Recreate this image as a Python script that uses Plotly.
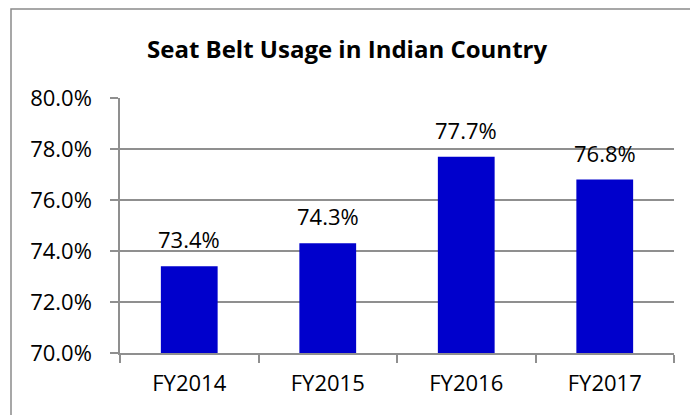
import plotly.graph_objects as go

categories = ["FY2014", "FY2015", "FY2016", "FY2017"]
usage = [0.734, 0.743, 0.777, 0.768]
labels = ["73.4%", "74.3%", "77.7%", "76.8%"]
title_text = "Seat Belt Usage in Indian Country"

FONT = "Open Sans, Liberation Sans, Arial, sans-serif"
GRID = "#8f8f8f"

fig = go.Figure()
fig.add_trace(go.Bar(
    x=categories, y=usage,
    marker=dict(color="#0000CC", line=dict(width=0)),
    hoverinfo="skip",
))

for c, v, t in zip(categories, usage, labels):
    fig.add_annotation(x=c, y=v, text=t, showarrow=False,
                       yanchor="middle", yshift=27,
                       font=dict(family=FONT, size=22, color="#000000"))

W, H = 690, 415
ml, mr, mt, mb = 120, 16, 98, 62
pw = W - ml - mr
ph = H - mt - mb

fig.add_shape(type="rect", xref="paper", yref="paper",
              x0=(11 - ml) / pw, x1=1.2,
              y0=-0.6, y1=1 + (mt - 9) / ph,
              line=dict(color="#8a8a8a", width=1.5), layer="below")

fig.update_layout(
    width=W, height=H,
    margin=dict(l=ml, r=mr, t=mt, b=mb),
    paper_bgcolor="white", plot_bgcolor="white",
    bargap=0.59,
    showlegend=False,
    title=dict(text="<b>" + title_text + "</b>", x=0.503, xref="container",
               xanchor="center", y=1 - 50 / H, yref="container", yanchor="middle",
               font=dict(family=FONT, size=24, color="#000000")),
    font=dict(family=FONT, size=22, color="#000000"),
    xaxis=dict(
        type="category",
        showline=True, linecolor=GRID, linewidth=1.5,
        ticks="outside", tickson="boundaries", ticklen=8,
        tickcolor=GRID, tickwidth=1.5,
        showgrid=False, ticklabelstandoff=10,
        tickfont=dict(family=FONT, size=22, color="#000000"),
    ),
    yaxis=dict(
        range=[0.70, 0.80], dtick=0.02, tick0=0.70,
        tickformat=".1%",
        showline=True, linecolor=GRID, linewidth=1.5,
        ticks="outside", ticklen=8, tickcolor=GRID, tickwidth=1.5,
        showgrid=True, gridcolor=GRID, gridwidth=1.5,
        zeroline=False, ticklabelstandoff=14,
        tickfont=dict(family=FONT, size=22, color="#000000"),
    ),
)

fig.write_html("out.html", config={"displayModeBar": False},
               post_script="document.body.style.margin='0';document.body.style.overflow='hidden';")
